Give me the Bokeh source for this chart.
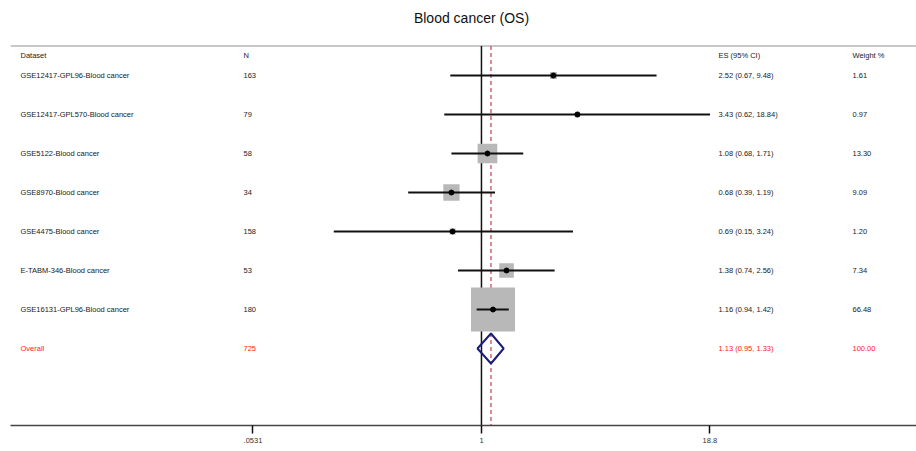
import numpy as np
from bokeh.plotting import figure
from bokeh.models import Range1d, FixedTicker, Span, Label, LabelSet, ColumnDataSource
from bokeh.core.properties import value
from bokeh.embed import file_html
from bokeh.resources import INLINE

# ---------------- data ----------------
chart_title = "Blood cancer (OS)"
datasets = ["GSE12417-GPL96-Blood cancer", "GSE12417-GPL570-Blood cancer",
            "GSE5122-Blood cancer", "GSE8970-Blood cancer", "GSE4475-Blood cancer",
            "E-TABM-346-Blood cancer", "GSE16131-GPL96-Blood cancer"]
n_values = [163, 79, 58, 34, 158, 53, 180]
es_values = [2.52, 3.43, 1.08, 0.68, 0.69, 1.38, 1.16]
ci_low = [0.67, 0.62, 0.68, 0.39, 0.15, 0.74, 0.94]
ci_high = [9.48, 18.84, 1.71, 1.19, 3.24, 2.56, 1.42]
weights = [1.61, 0.97, 13.30, 9.09, 1.20, 7.34, 66.48]
overall_label = "Overall"
overall_n = 725
overall_es = 1.13
overall_low = 0.95
overall_high = 1.33
overall_weight = 100.00
header_labels = ["Dataset", "N", "ES (95% CI)", "Weight %"]
tick_values = [0.0531, 1, 18.8]
tick_labels = [".0531", "1", "18.8"]
null_value = 1

# ---------------- layout constants ----------------
FONT = "Liberation Sans"
TXT = "#1a1a1a"
RED = "#ff2020"
col_x = [10, 233, 708, 842]          # screen px from frame left
rows = list(range(1, len(datasets) + 1))
overall_row = len(datasets) + 1
header_row = 0.5
title_row = -0.487
rule_row = 0.244
y_bottom = 9.974
y_top = -0.923

p = figure(width=916, height=451, x_axis_type="log",
           x_range=Range1d(0.002358, 267.3), y_range=Range1d(y_bottom, y_top),
           y_axis_location=None, toolbar_location=None, output_backend="svg",
           min_border_left=10, min_border_right=0, min_border_top=0,
           min_border_bottom=26)
p.outline_line_color = None
p.xgrid.visible = False
p.ygrid.visible = False
p.background_fill_color = "white"

# title
p.add_layout(Label(x=461, y=title_row, x_units="screen", y_units="data",
                   text=chart_title, text_font=FONT, text_font_size="14px",
                   text_color="#111111", text_align="center",
                   text_baseline="middle"))

# header rule
p.add_layout(Span(location=rule_row, dimension="width", line_color="#c8c8c8",
                  line_width=2, level="underlay"))
# null line and overall line (drawn first, under the boxes)
p.segment(x0=[null_value], y0=[rule_row], x1=[null_value], y1=[y_bottom],
          line_color="#111111", line_width=1.5)
p.segment(x0=[overall_es], y0=[rule_row], x1=[overall_es], y1=[y_bottom],
          line_color="#c0404a", line_width=1.2, line_dash="4 3")

src = ColumnDataSource(dict(
    y=rows, es=es_values, lo=ci_low, hi=ci_high,
    size=[5.4 * np.sqrt(w) for w in weights],
))

# weight boxes
p.scatter(x="es", y="y", size="size", marker="square", source=src,
          fill_color="#b8b8b8", line_color=None)
# confidence intervals
p.segment(x0="lo", y0="y", x1="hi", y1="y", source=src,
          line_color="#111111", line_width=2)
# point estimates
p.scatter(x="es", y="y", size=5, marker="circle", source=src,
          fill_color="black", line_color="black")

# overall diamond
h = 15 / 39
p.patch(x=[overall_low, overall_es, overall_high, overall_es],
        y=[overall_row, overall_row - h, overall_row, overall_row + h],
        fill_alpha=0, line_color="#1c1c7a", line_width=2)

# text columns
def add_col(xpx, texts, ys, color):
    s = ColumnDataSource(dict(x=[xpx] * len(texts), y=ys, t=texts))
    p.add_layout(LabelSet(x="x", y="y", text="t", source=s, x_units="screen",
                          y_units="data", text_font=value(FONT),
                          text_font_size="7.5px", text_color=color,
                          text_baseline="middle", text_align="left"))

for cx, lab in zip(col_x, header_labels):
    add_col(cx, [lab], [header_row], TXT)

add_col(col_x[0], datasets, rows, TXT)
add_col(col_x[1], [str(v) for v in n_values], rows, TXT)
add_col(col_x[2], ["%.2f (%.2f, %.2f)" % (e, l, u) for e, l, u in zip(es_values, ci_low, ci_high)], rows, TXT)
add_col(col_x[3], ["%.2f" % w for w in weights], rows, TXT)

add_col(col_x[0], [overall_label], [overall_row], RED)
add_col(col_x[1], [str(overall_n)], [overall_row], RED)
add_col(col_x[2], ["%.2f (%.2f, %.2f)" % (overall_es, overall_low, overall_high)], [overall_row], RED)
add_col(col_x[3], ["%.2f" % overall_weight], [overall_row], RED)

# x axis
p.xaxis.ticker = FixedTicker(ticks=tick_values, minor_ticks=[])
p.xaxis.major_label_overrides = {v: t for v, t in zip(tick_values, tick_labels)}
p.xaxis.axis_line_color = "#444444"
p.xaxis.axis_line_width = 1.6
p.xaxis.major_tick_line_color = "#111111"
p.xaxis.major_tick_line_width = 1.5
p.xaxis.major_tick_out = 8
p.xaxis.major_tick_in = 0
p.xaxis.minor_tick_line_color = None
p.xaxis.major_label_text_font = FONT
p.xaxis.major_label_text_font_size = "7.5px"
p.xaxis.major_label_text_color = "#333333"
p.xaxis.major_label_standoff = 4

open("out.html", "w").write(file_html(p, INLINE))
